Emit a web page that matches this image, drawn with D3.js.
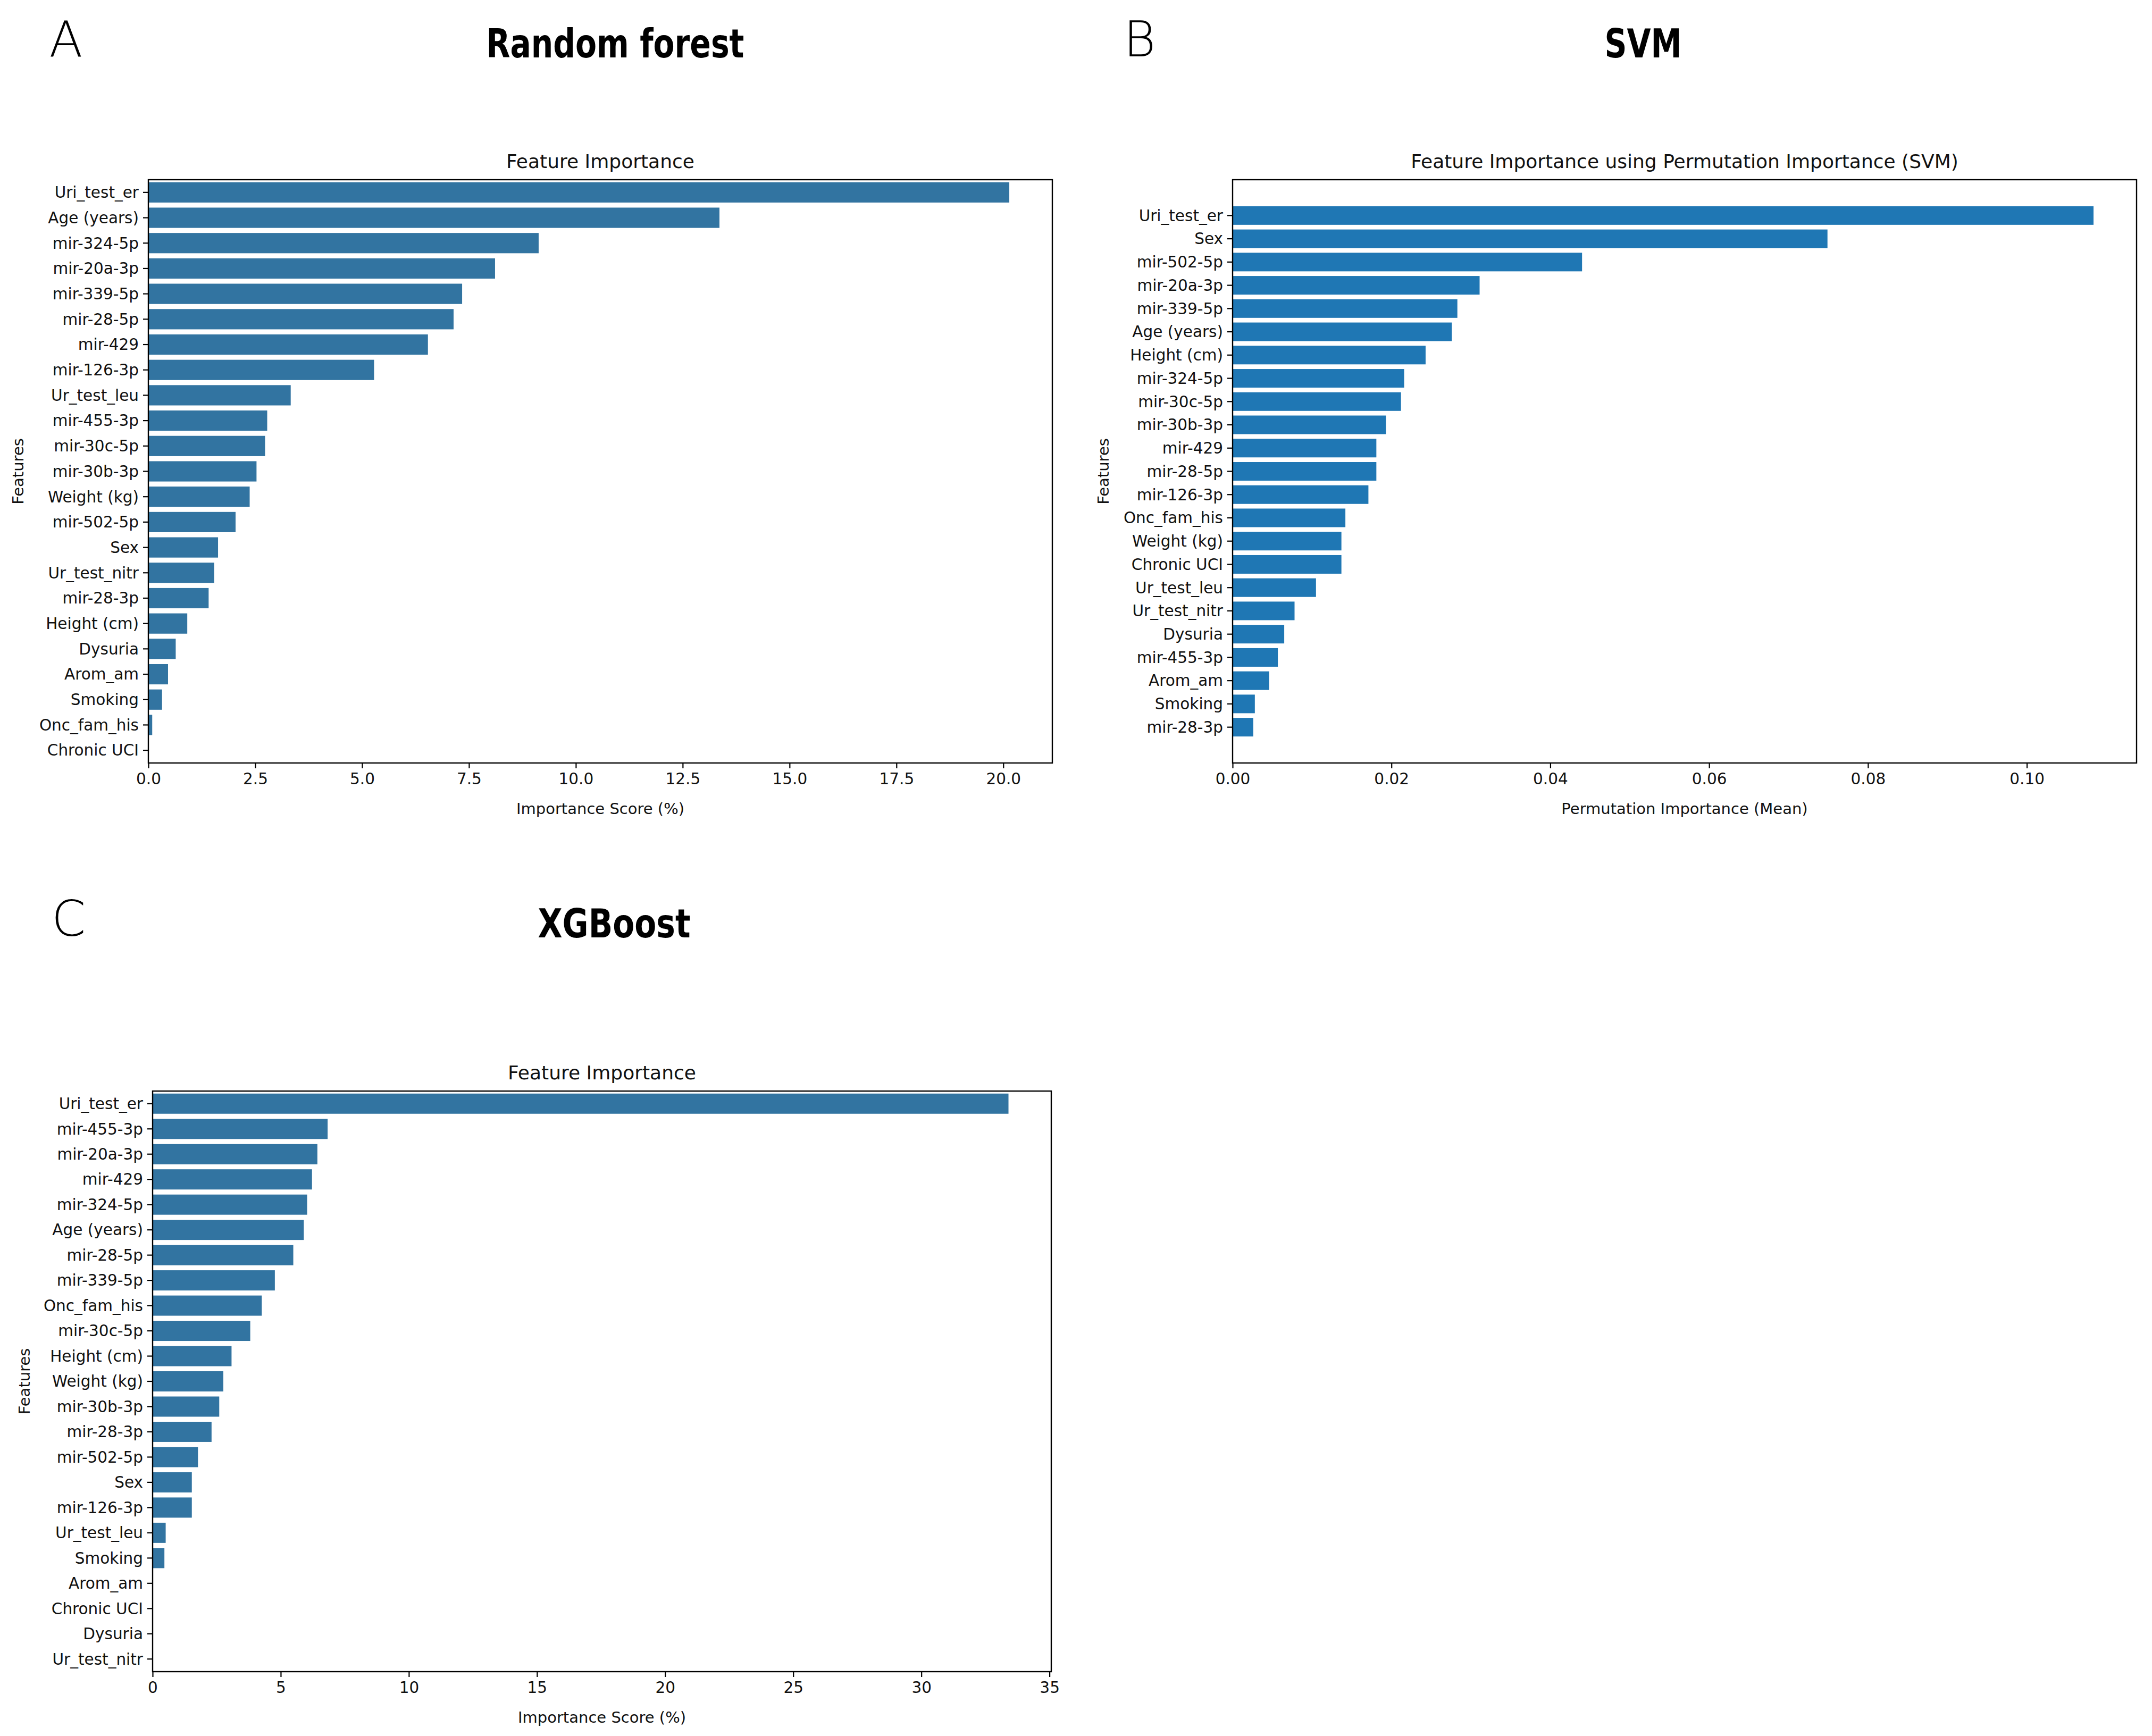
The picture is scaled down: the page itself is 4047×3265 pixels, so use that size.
<!DOCTYPE html>
<html>
<head>
<meta charset="utf-8">
<script src="https://cdn.jsdelivr.net/npm/d3@7"></script>
<style>
  html, body { margin: 0; padding: 0; background: #fff; }
  text { font-family: "DejaVu Sans", sans-serif; }
</style>
</head>
<body>
<script>
// ---------------- DATA ----------------
const rfFeatures = ["Uri_test_er","Age (years)","mir-324-5p","mir-20a-3p","mir-339-5p","mir-28-5p","mir-429","mir-126-3p","Ur_test_leu","mir-455-3p","mir-30c-5p","mir-30b-3p","Weight (kg)","mir-502-5p","Sex","Ur_test_nitr","mir-28-3p","Height (cm)","Dysuria","Arom_am","Smoking","Onc_fam_his","Chronic UCI"];
const rfValues = [20.14,13.36,9.13,8.11,7.34,7.14,6.54,5.28,3.33,2.78,2.73,2.53,2.37,2.04,1.63,1.54,1.41,0.91,0.64,0.46,0.32,0.09,0.0];
const rfTicks = [0,2.5,5,7.5,10,12.5,15,17.5,20];

const svmFeatures = ["Uri_test_er","Sex","mir-502-5p","mir-20a-3p","mir-339-5p","Age (years)","Height (cm)","mir-324-5p","mir-30c-5p","mir-30b-3p","mir-429","mir-28-5p","mir-126-3p","Onc_fam_his","Weight (kg)","Chronic UCI","Ur_test_leu","Ur_test_nitr","Dysuria","mir-455-3p","Arom_am","Smoking","mir-28-3p"];
const svmValues = [0.1084,0.0749,0.0440,0.0311,0.0283,0.0276,0.0243,0.0216,0.0212,0.0193,0.0181,0.0181,0.0171,0.0142,0.0137,0.0137,0.0105,0.0078,0.0065,0.0057,0.0046,0.0028,0.0026];
const svmTicks = [0,0.02,0.04,0.06,0.08,0.10];

const xgbFeatures = ["Uri_test_er","mir-455-3p","mir-20a-3p","mir-429","mir-324-5p","Age (years)","mir-28-5p","mir-339-5p","Onc_fam_his","mir-30c-5p","Height (cm)","Weight (kg)","mir-30b-3p","mir-28-3p","mir-502-5p","Sex","mir-126-3p","Ur_test_leu","Smoking","Arom_am","Chronic UCI","Dysuria","Ur_test_nitr"];
const xgbValues = [33.40,6.83,6.43,6.22,6.03,5.90,5.49,4.77,4.26,3.81,3.08,2.76,2.60,2.30,1.77,1.53,1.53,0.51,0.46,0,0,0,0];
const xgbTicks = [0,5,10,15,20,25,30,35];

// ---------------- LAYOUT ----------------
const W = 4047, H = 3265;
const svg = d3.select("body").append("svg")
  .attr("width", W).attr("height", H)
  .attr("viewBox", `0 0 ${W} ${H}`);
svg.append("rect").attr("width", W).attr("height", H).attr("fill", "#fff");

const TICK_FS = 29.5, LABEL_FS = 29, SUB_FS = 36;

function panel(cfg) {
  const g = svg.append("g");
  const { left, right, top, bottom } = cfg.box;
  const n = cfg.features.length;
  const xMax = d3.max(cfg.values) * 1.05;
  const x = d3.scaleLinear().domain([0, xMax]).range([left, right]);

  let yPos, bh, yCenter;
  if (cfg.style === "seaborn") {
    const y = d3.scaleBand().domain(cfg.features).range([top, bottom]).paddingInner(0.2).paddingOuter(0.1);
    yPos = f => y(f); bh = y.bandwidth();
    yCenter = f => y(f) + y.bandwidth() / 2;
  } else {
    // matplotlib barh: positions 0..n-1, bar height 0.8, 5% margins, inverted
    const lo = -0.4, hi = n - 1 + 0.4, m = (hi - lo) * 0.05;
    const y = d3.scaleLinear().domain([lo - m, hi + m]).range([top, bottom]);
    const idx = f => cfg.features.indexOf(f);
    yPos = f => y(idx(f) - 0.4); bh = y(0.4) - y(-0.4);
    yCenter = f => y(idx(f));
  }

  // bars
  g.append("g").selectAll("rect").data(cfg.features).join("rect")
    .attr("x", x(0))
    .attr("y", f => yPos(f))
    .attr("width", (f, i) => x(cfg.values[i]) - x(0))
    .attr("height", bh)
    .attr("fill", cfg.color);

  // x axis
  const xAxis = d3.axisBottom(x).tickValues(cfg.ticks).tickFormat(cfg.fmt).tickSize(10).tickPadding(9);
  const gx = g.append("g").attr("transform", `translate(0,${bottom})`).call(xAxis);
  gx.select(".domain").remove();
  gx.selectAll(".tick line").attr("stroke", "#000").attr("stroke-width", 2.2);
  gx.selectAll(".tick text").attr("font-size", TICK_FS).attr("fill", "#111")
    .attr("font-family", "DejaVu Sans");

  // y axis ticks
  const gy = g.append("g");
  gy.selectAll("line").data(cfg.features).join("line")
    .attr("x1", left - 10).attr("x2", left)
    .attr("y1", f => yCenter(f)).attr("y2", f => yCenter(f))
    .attr("stroke", "#000").attr("stroke-width", 2.2);
  gy.selectAll("text").data(cfg.features).join("text")
    .attr("x", left - 18).attr("y", f => yCenter(f))
    .attr("dy", "0.35em").attr("text-anchor", "end")
    .attr("font-size", TICK_FS).attr("fill", "#111")
    .text(f => f);

  // frame
  g.append("rect").attr("x", left).attr("y", top)
    .attr("width", right - left).attr("height", bottom - top)
    .attr("fill", "none").attr("stroke", "#000").attr("stroke-width", 2.4);

  // subtitle
  g.append("text").attr("x", (left + right) / 2).attr("y", top - 22)
    .attr("text-anchor", "middle").attr("font-size", SUB_FS).attr("fill", "#111")
    .text(cfg.subtitle);

  // x label
  g.append("text").attr("x", (left + right) / 2).attr("y", bottom + 96)
    .attr("text-anchor", "middle").attr("font-size", LABEL_FS).attr("fill", "#111")
    .text(cfg.xlabel);

  // y label
  g.append("text")
    .attr("transform", `translate(${cfg.ylabX},${(top + bottom) / 2}) rotate(-90)`)
    .attr("text-anchor", "middle").attr("font-size", LABEL_FS).attr("fill", "#111")
    .text("Features");

  // panel letter and main title
  g.append("text").attr("x", cfg.letterX).attr("y", cfg.letterY)
    .attr("text-anchor", "middle").attr("font-size", 92)
    .attr("font-family", "Roboto, 'Liberation Sans', sans-serif").attr("font-weight", 300)
    .attr("fill", "#000").text(cfg.letter);
  g.append("text").attr("x", cfg.titleX - cfg.titleW / 2).attr("y", cfg.titleY)
    .attr("font-size", 74)
    .attr("textLength", cfg.titleW).attr("lengthAdjust", "spacingAndGlyphs")
    .attr("font-family", "Roboto, 'Liberation Sans', sans-serif").attr("font-weight", 700)
    .attr("fill", "#000").text(cfg.title);
}

panel({
  features: rfFeatures, values: rfValues, ticks: rfTicks, fmt: d3.format(".1f"),
  box: { left: 279, right: 1979, top: 338, bottom: 1435 },
  style: "seaborn", color: "#3274a1",
  subtitle: "Feature Importance", xlabel: "Importance Score (%)", ylabX: 44,
  letter: "A", letterX: 124, letterY: 106,
  title: "Random forest", titleX: 1157, titleY: 108, titleW: 485
});

panel({
  features: svmFeatures, values: svmValues, ticks: svmTicks, fmt: d3.format(".2f"),
  box: { left: 2318, right: 4018, top: 338, bottom: 1435 },
  style: "mpl", color: "#1f77b4",
  subtitle: "Feature Importance using Permutation Importance (SVM)", xlabel: "Permutation Importance (Mean)", ylabX: 2085,
  letter: "B", letterX: 2143, letterY: 106,
  title: "SVM", titleX: 3090, titleY: 108, titleW: 145
});

panel({
  features: xgbFeatures, values: xgbValues, ticks: xgbTicks, fmt: d3.format("d"),
  box: { left: 287, right: 1977, top: 2052, bottom: 3144 },
  style: "seaborn", color: "#3274a1",
  subtitle: "Feature Importance", xlabel: "Importance Score (%)", ylabX: 56,
  letter: "C", letterX: 129, letterY: 1760,
  title: "XGBoost", titleX: 1155, titleY: 1763, titleW: 287
});
</script>
</body>
</html>
